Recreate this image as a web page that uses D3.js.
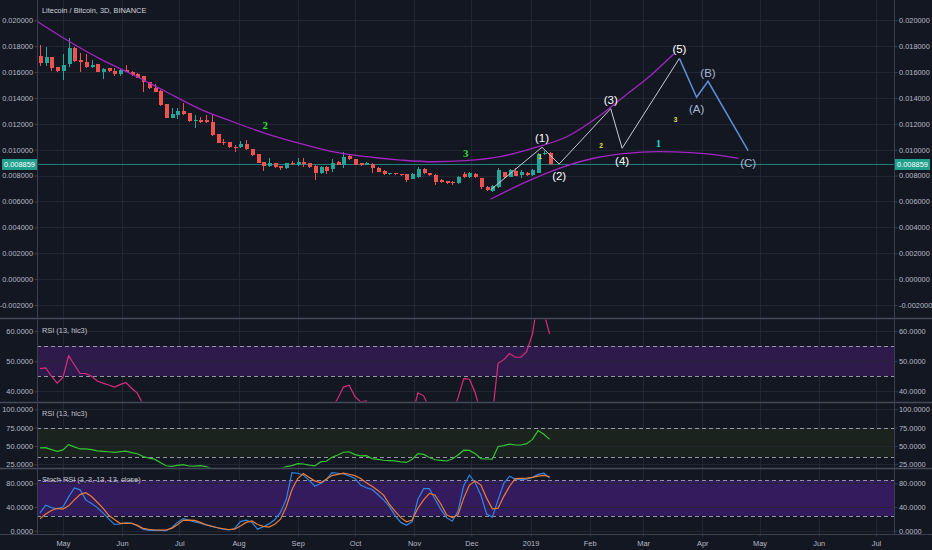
<!DOCTYPE html>
<html><head><meta charset="utf-8">
<script src="https://cdn.jsdelivr.net/npm/d3@7/dist/d3.min.js"></script>
<style>html,body{margin:0;padding:0;background:#131722;overflow:hidden}svg{display:block}</style>
</head><body><svg id="c" width="932" height="550"></svg>
<script>
// ---------------- DATA ----------------
const title = "Litecoin / Bitcoin, 3D, BINANCE";
const startDate = "2018-04-19";
const barDays = 3;
const open = [0.01724,0.01668,0.01714,0.01637,0.01608,0.01660,0.01788,0.01693,0.01675,0.01637,
0.01660,0.01603,0.01629,0.01611,0.01583,0.01618,0.01603,0.01585,0.01567,0.01521,
0.01479,0.01454,0.01351,0.01247,0.01268,0.01299,0.01281,0.01222,0.01230,0.01230,
0.01216,0.01121,0.01057,0.01057,0.01023,0.01019,0.01044,0.01005,0.00964,0.00903,
0.00874,0.00895,0.00874,0.00856,0.00900,0.00882,0.00907,0.00895,0.00874,0.00817,
0.00869,0.00849,0.00907,0.00882,0.00951,0.00926,0.00895,0.00882,0.00889,0.00861,
0.00838,0.00810,0.00817,0.00812,0.00810,0.00774,0.00791,0.00849,0.00817,0.00804,
0.00766,0.00758,0.00753,0.00740,0.00812,0.00787,0.00810,0.00779,0.00714,0.00681,
0.00708,0.00825,0.00791,0.00838,0.00804,0.00822,0.00804,0.00822,0.00964,0.00971];
const high = [0.01809,0.01796,0.01714,0.01641,0.01737,0.01861,0.01796,0.01745,0.01740,0.01693,
0.01662,0.01629,0.01634,0.01634,0.01624,0.01655,0.01608,0.01590,0.01572,0.01525,
0.01505,0.01461,0.01351,0.01325,0.01320,0.01359,0.01286,0.01268,0.01255,0.01268,
0.01268,0.01125,0.01080,0.01062,0.01036,0.01070,0.01075,0.01008,0.00968,0.00906,
0.00938,0.00900,0.00877,0.00900,0.00910,0.00934,0.00938,0.00900,0.00880,0.00877,
0.00877,0.00926,0.00915,0.00985,0.00960,0.00930,0.00900,0.00905,0.00895,0.00866,
0.00843,0.00823,0.00820,0.00815,0.00815,0.00817,0.00869,0.00856,0.00820,0.00810,
0.00770,0.00762,0.00758,0.00795,0.00830,0.00825,0.00822,0.00785,0.00720,0.00728,
0.00860,0.00830,0.00851,0.00856,0.00840,0.00830,0.00849,0.00975,0.00990,0.00980];
const low = [0.01649,0.01649,0.01608,0.01603,0.01539,0.01641,0.01675,0.01603,0.01629,0.01629,
0.01598,0.01546,0.01598,0.01572,0.01572,0.01598,0.01572,0.01552,0.01444,0.01469,
0.01444,0.01340,0.01243,0.01243,0.01237,0.01268,0.01216,0.01170,0.01204,0.01204,
0.01107,0.01049,0.01036,0.01015,0.00985,0.01011,0.00998,0.00955,0.00895,0.00838,
0.00869,0.00860,0.00842,0.00851,0.00885,0.00877,0.00864,0.00860,0.00766,0.00810,
0.00812,0.00830,0.00878,0.00856,0.00920,0.00878,0.00875,0.00878,0.00817,0.00825,
0.00805,0.00805,0.00807,0.00800,0.00753,0.00770,0.00785,0.00812,0.00798,0.00727,
0.00745,0.00735,0.00727,0.00735,0.00782,0.00782,0.00780,0.00694,0.00684,0.00675,
0.00705,0.00782,0.00787,0.00795,0.00780,0.00800,0.00800,0.00817,0.00960,0.00880];
const close = [0.01668,0.01714,0.01634,0.01608,0.01655,0.01788,0.01685,0.01675,0.01641,0.01655,
0.01603,0.01624,0.01608,0.01583,0.01618,0.01603,0.01577,0.01556,0.01521,0.01474,
0.01448,0.01345,0.01247,0.01278,0.01299,0.01274,0.01222,0.01230,0.01212,0.01212,
0.01114,0.01054,0.01049,0.01019,0.01019,0.01044,0.01003,0.00959,0.00900,0.00874,
0.00900,0.00864,0.00856,0.00895,0.00889,0.00907,0.00887,0.00864,0.00817,0.00864,
0.00838,0.00900,0.00882,0.00946,0.00926,0.00882,0.00882,0.00895,0.00856,0.00830,
0.00810,0.00817,0.00810,0.00805,0.00766,0.00810,0.00849,0.00817,0.00804,0.00753,
0.00753,0.00740,0.00740,0.00787,0.00787,0.00817,0.00787,0.00714,0.00689,0.00720,
0.00843,0.00787,0.00843,0.00799,0.00830,0.00804,0.00843,0.00964,0.00977,0.008859];
const lastPrice = 0.008859;

const rsi = [47.5,47.8,45,42.7,44.6,51.8,48.8,45.9,45.9,45,
43.4,42.7,42.1,41.4,42.2,42.9,41,39.4,35.6,33.5,
32,27.5,23,22.3,23.6,24.6,22.7,22.6,23.1,21.8,
19,17,15,15.5,16,17,16.5,15,13,11.5,
12.5,13.5,19,21.8,23.2,26,25.4,23.8,22.8,28.2,
29.1,34.5,37.6,41.4,42,38.2,36.5,36.8,32.8,31.6,
30.5,30.1,29.6,28.4,27.5,32,39.5,38.5,34.3,31.2,
30.4,29.5,32.2,37.8,44.2,44,39.5,32.8,32.2,32,
49.3,50.5,52.5,51.3,51.3,53.2,59,71,66,59];
const stochK = [30,43,39,37,40,57,72,69,52,46,
39,30,20,10.5,11.5,13.4,12.7,8.5,2.6,0.5,
0.8,0.6,0.2,5,14,20.4,17.8,15,12.5,9.8,
7.4,5,2.7,1.2,3.7,15.3,17.7,14,2.6,6.6,
11.5,18.5,31,53,98,97,94,85,75,79.5,
86,98,97,95.7,92.5,88,77,72.5,69.5,61,
52,41,26,14,9,15.5,53,71,71,53,
36,22,16,33,76,94,81,60,28,23,
52,80,92,87,86,87,90,95,97,89];
const stochD = [20,28,34,37.8,36.5,42,52,61,64,57.6,
48,38,26,19,12.5,12.5,12.5,9,4,2.4,
1.2,1.2,1.2,4,10,17.5,18,17.3,14,10,
7.5,5,3.3,2,2.5,8,14,16.5,10.5,7.2,
6,11,19.5,40,69,88,96.5,90,84,81,
87,93,95,97,95.3,93,88,81,75,68,
60,45,33,22,15,18,38,52,63,60,
45,27,22,27,55,77,84,77,55,37,
38,58,75,88,88.4,88.6,90,92,93.5,91];

const priceTicks = [0.020,0.018,0.016,0.014,0.012,0.010,0.008,0.006,0.004,0.002,0.000,-0.002];
const rsi1Ticks = [60,50,40];
const rsi2Ticks = [100,75,50,25];
const stochTicks = [80,40,0];
const rsi1Band = [45,55];
const rsi2Band = [35,75];
const stochBand = [25,85];
const paneTitles = ["RSI (13, hlc3)","RSI (13, hlc3)","Stoch RSI (3, 3, 13, 13, close)"];

const upperArc = [["2018-04-17",0.01997],["2018-05-03",0.01848],["2018-05-20",0.01706],["2018-06-07",0.01577],
["2018-06-24",0.01448],["2018-07-11",0.01320],["2018-07-29",0.01216],["2018-08-15",0.01127],["2018-09-02",0.01049],
["2018-09-19",0.00985],["2018-10-07",0.00946],["2018-10-25",0.00920],["2018-11-11",0.00907],["2018-11-28",0.00915],
["2018-12-16",0.00946],["2019-01-02",0.01011],["2019-01-20",0.01100],["2019-02-06",0.01260],["2019-02-20",0.01423],
["2019-03-03",0.01550],["2019-03-17",0.01740]];
const lowerArc = [["2018-12-11",0.00617],["2018-12-30",0.00753],["2019-01-16",0.00856],["2019-02-03",0.00934],
["2019-02-20",0.00972],["2019-03-09",0.00985],["2019-03-26",0.00977],["2019-04-13",0.00951],["2019-04-20",0.00933]];
const impulse = [["2018-12-11",0.00689],["2019-01-07",0.01019],["2019-01-16",0.00889],["2019-02-12",0.01317],
["2019-02-18",0.01011],["2019-03-20",0.01706]];
const correction = [["2019-03-20",0.01706],["2019-03-29",0.01405],["2019-04-04",0.01529],["2019-04-25",0.00992]];
const impulseLabels = [["2019-01-07",0.01088,"(1)"],["2019-01-16",0.00799,"(2)"],["2019-02-12",0.01384,"(3)"],
["2019-02-18",0.00915,"(4)"],["2019-03-20",0.01776,"(5)"]];
const correctionLabels = [["2019-03-29",0.01312,"(A)"],["2019-04-04",0.01595,"(B)"],["2019-04-25",0.00895,"(C)"]];
const bigCounts = [["2018-08-15",0.01189,"2","#2fdc2f"],["2018-11-28",0.00972,"3","#2fdc2f"],["2019-03-09",0.01054,"1","#22d3c3"]];
const smallCounts = [["2019-01-06",0.00946,"1"],["2019-02-07",0.01031,"2"],["2019-03-18",0.01235,"3"]];

// ---------------- LAYOUT ----------------
const svg = d3.select("#c");
const L = 37, R = 894;
const FONT = "'Liberation Sans', Arial, sans-serif";
const BG = "#131722", GRID = "#232734", AXIS = "#3a3f4f", TXT = "#b7bac3";
const parse = d3.utcParse("%Y-%m-%d");
const t0 = parse(startDate);
const dates = open.map((_, i) => d3.utcDay.offset(t0, i * barDays));
const xBase = d3.scaleUtc().domain([parse("2018-04-19"), parse("2019-07-01")]).range([40, 876]);
const x = xBase.copy().domain([xBase.invert(L), xBase.invert(R)]).range([L, R]);
const xd = s => x(parse(s));

const panes = [
  {id:"main", top:0, bottom:317.5},
  {id:"r1", top:319.5, bottom:401.5},
  {id:"r2", top:403.5, bottom:467.5},
  {id:"st", top:469.5, bottom:533.5}
];
const yMain = d3.scaleLinear().domain([-0.002, 0.020]).range([305, 20.3]);
const yR1 = d3.scaleLinear().domain([40, 60]).range([391.3, 331]);
const yR2 = d3.scaleLinear().domain([25, 100]).range([464.3, 409.3]);
const yS = d3.scaleLinear().domain([0, 80]).range([530.7, 483.3]);

svg.append("rect").attr("width", 932).attr("height", 550).attr("fill", BG);
const defs = svg.append("defs");
panes.forEach(p => {
  defs.append("clipPath").attr("id", "clip-" + p.id).append("rect")
    .attr("x", L).attr("y", p.top).attr("width", R - L).attr("height", p.bottom - p.top);
});

const monthTicks = d3.utcMonth.range(x.domain()[0], x.domain()[1]);

// vertical grid
svg.append("g").selectAll("line").data(monthTicks).join("line")
  .attr("x1", d => Math.round(x(d)) + 0.5).attr("x2", d => Math.round(x(d)) + 0.5)
  .attr("y1", 0).attr("y2", 534).attr("stroke", GRID).attr("stroke-width", 1);

// bands
function band(scale, b, fill) {
  svg.append("rect").attr("x", L).attr("width", R - L)
    .attr("y", scale(b[1])).attr("height", scale(b[0]) - scale(b[1])).attr("fill", fill);
}
band(yR1, rsi1Band, "#2e1b4c");
band(yR2, rsi2Band, "#1b231e");
band(yS, stochBand, "#331b5e");

// horizontal grids
function hgrid(scale, ticks) {
  svg.append("g").selectAll("line").data(ticks).join("line")
    .attr("x1", L).attr("x2", R)
    .attr("y1", d => Math.round(scale(d)) + 0.5).attr("y2", d => Math.round(scale(d)) + 0.5)
    .attr("stroke", GRID).attr("stroke-width", 1).attr("opacity", 0.9);
}
hgrid(yMain, priceTicks); hgrid(yR1, rsi1Ticks); hgrid(yR2, rsi2Ticks); hgrid(yS, stochTicks);

// dashed band lines
function dashed(scale, b) {
  svg.append("g").selectAll("line").data(b).join("line")
    .attr("x1", L).attr("x2", R)
    .attr("y1", d => Math.round(scale(d)) + 0.5).attr("y2", d => Math.round(scale(d)) + 0.5)
    .attr("stroke", "#a9acb8").attr("stroke-width", 1).attr("stroke-dasharray", "4,3").attr("opacity", 0.85);
}
dashed(yR1, rsi1Band); dashed(yR2, rsi2Band); dashed(yS, stochBand);

// price line
svg.append("line").attr("x1", L).attr("x2", R)
  .attr("y1", yMain(lastPrice)).attr("y2", yMain(lastPrice))
  .attr("stroke", "#26a69a").attr("stroke-width", 1).attr("opacity", 0.75);

// candles
const gC = svg.append("g").attr("clip-path", "url(#clip-main)").attr("shape-rendering", "crispEdges");
const bars = open.map((o, i) => ({d: dates[i], o, h: high[i], l: low[i], c: close[i]}));
gC.selectAll("line").data(bars).join("line")
  .attr("x1", d => Math.round(x(d.d)) + 0.5).attr("x2", d => Math.round(x(d.d)) + 0.5)
  .attr("y1", d => yMain(d.h)).attr("y2", d => yMain(d.l))
  .attr("stroke", d => d.c >= d.o ? "#26a69a" : "#ef5350");
gC.selectAll("rect").data(bars).join("rect")
  .attr("x", d => Math.round(x(d.d)) - 1.5).attr("width", 4)
  .attr("y", d => yMain(Math.max(d.o, d.c)))
  .attr("height", d => Math.max(1, Math.abs(yMain(d.o) - yMain(d.c))))
  .attr("fill", d => d.c >= d.o ? "#26a69a" : "#ef5350");

// overlays
const gO = svg.append("g").attr("clip-path", "url(#clip-main)");
const arcLine = d3.line().x(d => xd(d[0])).y(d => yMain(d[1])).curve(d3.curveMonotoneX);
const straight = d3.line().x(d => xd(d[0])).y(d => yMain(d[1]));
gO.append("path").attr("d", arcLine(upperArc)).attr("fill", "none").attr("stroke", "#a324c4").attr("stroke-width", 1.3);
gO.append("path").attr("d", arcLine(lowerArc)).attr("fill", "none").attr("stroke", "#a324c4").attr("stroke-width", 1.3);
gO.append("path").attr("d", straight(impulse)).attr("fill", "none").attr("stroke", "#c9cbd2").attr("stroke-width", 1);
gO.append("path").attr("d", straight(correction)).attr("fill", "none").attr("stroke", "#5b8fd8").attr("stroke-width", 1.5);

gO.selectAll("text.imp").data(impulseLabels).join("text").attr("class", "imp")
  .attr("x", d => xd(d[0])).attr("y", d => yMain(d[1])).attr("dy", "0.36em")
  .attr("text-anchor", "middle").attr("font-family", FONT).attr("font-size", 11.5)
  .attr("fill", "#ffffff").text(d => d[2]);
gO.selectAll("text.cor").data(correctionLabels).join("text").attr("class", "cor")
  .attr("x", d => xd(d[0])).attr("y", d => yMain(d[1])).attr("dy", "0.36em")
  .attr("text-anchor", "middle").attr("font-family", FONT).attr("font-size", 11.5)
  .attr("fill", "#a3b6d6").text(d => d[2]);
gO.selectAll("text.big").data(bigCounts).join("text").attr("class", "big")
  .attr("x", d => xd(d[0])).attr("y", d => yMain(d[1])).attr("dy", "0.36em")
  .attr("text-anchor", "middle").attr("font-family", "'Liberation Serif', serif").attr("font-weight", "bold")
  .attr("font-size", 11).attr("fill", d => d[3]).text(d => d[2]);
gO.selectAll("text.small").data(smallCounts).join("text").attr("class", "small")
  .attr("x", d => xd(d[0])).attr("y", d => yMain(d[1])).attr("dy", "0.36em")
  .attr("text-anchor", "middle").attr("font-family", FONT).attr("font-weight", "bold")
  .attr("font-size", 6.5).attr("fill", "#e3e236").text(d => d[2]);

// indicator lines
function indLine(data, scale, clip, color, w) {
  const ln = d3.line().x((d, i) => x(dates[i])).y(d => scale(d));
  svg.append("path").attr("clip-path", "url(#clip-" + clip + ")")
    .attr("d", ln(data)).attr("fill", "none").attr("stroke", color).attr("stroke-width", w);
}
indLine(rsi, yR1, "r1", "#dc2a7e", 1.2);
indLine(rsi, yR2, "r2", "#35c435", 1.2);
indLine(stochK, yS, "st", "#2f86e6", 1.2);
indLine(stochD, yS, "st", "#ee7d33", 1.2);

// separators and axis frame
[318.5, 402.5, 468.5].forEach(y => {
  svg.append("line").attr("x1", 0).attr("x2", 932).attr("y1", y).attr("y2", y)
    .attr("stroke", "#454a58").attr("stroke-width", 1.6);
});
svg.append("line").attr("x1", L + 0.5).attr("x2", L + 0.5).attr("y1", 0).attr("y2", 534).attr("stroke", AXIS);
svg.append("line").attr("x1", R + 0.5).attr("x2", R + 0.5).attr("y1", 0).attr("y2", 534).attr("stroke", AXIS);
svg.append("line").attr("x1", 0).attr("x2", 932).attr("y1", 534.5).attr("y2", 534.5).attr("stroke", AXIS);

// axes
function styleAxis(g) {
  g.select(".domain").remove();
  g.selectAll(".tick line").attr("stroke", AXIS);
  g.selectAll("text").attr("fill", TXT).attr("font-family", FONT).attr("font-size", 7.4);
}
function yAxes(scale, ticks, fmt) {
  svg.append("g").attr("transform", `translate(${L + 0.5},0)`)
    .call(d3.axisLeft(scale).tickValues(ticks).tickFormat(fmt).tickSize(3).tickPadding(1.5)).call(styleAxis);
  svg.append("g").attr("transform", `translate(${R + 0.5},0)`)
    .call(d3.axisRight(scale).tickValues(ticks).tickFormat(fmt).tickSize(3).tickPadding(1.5)).call(styleAxis);
}
yAxes(yMain, priceTicks, d => d.toFixed(6));
yAxes(yR1, rsi1Ticks, d => d.toFixed(4));
yAxes(yR2, rsi2Ticks, d => d.toFixed(4));
yAxes(yS, stochTicks, d => d.toFixed(4));

const fmtMonth = d => d.getUTCMonth() === 0 ? d3.utcFormat("%Y")(d) : d3.utcFormat("%b")(d);
svg.append("g").attr("transform", "translate(0,534.5)")
  .call(d3.axisBottom(x).tickValues(monthTicks).tickFormat(fmtMonth).tickSize(2).tickPadding(4)).call(styleAxis);

// last price labels
function priceTag(x0, w) {
  const y0 = yMain(lastPrice);
  svg.append("rect").attr("x", x0).attr("y", y0 - 5.5).attr("width", w).attr("height", 11).attr("fill", "#22a08e");
  svg.append("text").attr("x", x0 + w / 2).attr("y", y0).attr("dy", "0.36em").attr("text-anchor", "middle")
    .attr("font-family", FONT).attr("font-size", 7.4).attr("fill", "#ffffff").text(lastPrice.toFixed(6));
}
priceTag(2, 35);
priceTag(R + 1, 35);

// titles
svg.append("text").attr("x", 42).attr("y", 10).attr("dy", "0.36em").attr("font-family", FONT)
  .attr("font-size", 7.4).attr("fill", "#d1d4dc").text(title);
[330, 413.3, 479].forEach((y, i) => {
  svg.append("text").attr("x", 42).attr("y", y).attr("dy", "0.36em").attr("font-family", FONT)
    .attr("font-size", 7.4).attr("fill", "#c3c6ce").text(paneTitles[i]);
});
</script></body></html>
